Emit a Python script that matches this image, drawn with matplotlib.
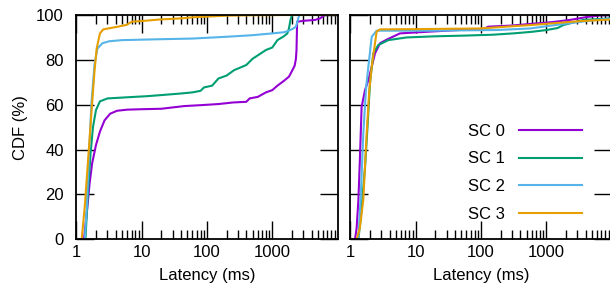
import numpy as np
import matplotlib
matplotlib.use("Agg")
import matplotlib.pyplot as plt
from matplotlib.ticker import LogLocator, NullFormatter, FixedLocator

plt.rcParams['font.family'] = ['Liberation Sans', 'DejaVu Sans']

labels = ["SC 0", "SC 1", "SC 2", "SC 3"]
colors = ["#9400D3", "#009E73", "#56B4E9", "#E69F00"]

# Left panel (latency ms, CDF %)
left_x = [
    [1.31, 1.45, 1.6, 1.75, 2.0, 2.3, 2.7, 3.3, 4.2, 6.0, 10, 20, 30, 45, 80, 150, 250, 400, 450, 600, 800, 1000, 1200, 1500, 1800, 2000, 2200, 2300, 2350, 2400, 3000, 4500, 5400, 6400, 10000],
    [1.38, 1.5, 1.65, 1.8, 2.0, 2.3, 3.0, 5.9, 12, 20, 40, 60, 80, 90, 120, 150, 200, 260, 320, 400, 500, 600, 800, 1000, 1200, 1500, 1700, 1800, 1900, 2000, 10000],
    [1.35, 1.45, 1.55, 1.7, 1.9, 2.1, 2.5, 3.2, 5.0, 19, 60, 200, 500, 1000, 1500, 1800, 2100, 2300, 2500, 2600, 10000],
    [1.21, 1.35, 1.47, 1.6, 1.72, 1.9, 2.05, 2.3, 2.59, 4.0, 5.9, 7.06, 12, 19, 40, 62, 120, 200, 600, 1860, 10000],
]
left_y = [
    [0, 12, 25, 34, 42, 48, 53, 56, 57.3, 57.8, 58.0, 58.2, 58.8, 59.4, 59.8, 60.3, 61.0, 61.3, 62.8, 63.5, 65.5, 66.5, 68.5, 70.6, 72.5, 75, 77.4, 80.4, 84.4, 97.0, 97.4, 97.8, 98.5, 100, 100],
    [0, 20, 38, 50, 57.6, 61.5, 62.8, 63.3, 63.8, 64.3, 65.0, 65.5, 66.2, 67.7, 68.5, 71.7, 73.0, 75.4, 76.5, 77.7, 80.5, 82, 84.4, 85.5, 88.8, 90.5, 91.8, 94, 97.8, 100, 100],
    [0, 15, 35, 60, 78, 85, 87.4, 88.3, 88.8, 89.2, 89.5, 90.3, 91.0, 91.8, 92.3, 93.0, 94.0, 94.8, 98.5, 100, 100],
    [0, 15, 30, 45, 58, 75, 85, 91.8, 93.6, 94.6, 95.6, 97.0, 97.5, 98.0, 98.5, 99.0, 99.4, 99.7, 99.9, 100, 100],
]

# Right panel
right_x = [
    [1.18, 1.25, 1.33, 1.4, 1.49, 1.68, 1.89, 2.13, 2.39, 2.85, 3.6, 5.76, 16.6, 60, 110, 130, 300, 565, 1200, 2300, 4200, 6500, 10000],
    [1.33, 1.45, 1.68, 1.85, 2.0, 2.25, 2.68, 3.82, 7.3, 20, 53.5, 150, 312, 600, 1015, 1500, 1820, 3690, 10000],
    [1.33, 1.45, 1.58, 1.75, 1.89, 2.13, 2.53, 5.0, 16.6, 175, 565, 1820, 5900, 10000],
    [1.25, 1.4, 1.58, 1.78, 1.95, 2.13, 2.53, 2.85, 10, 96, 565, 3450, 10000],
]
right_y = [
    [0, 5, 17.4, 35, 59, 66.5, 71, 77, 82.9, 87.4, 89.0, 91.8, 92.6, 93.5, 93.8, 94.8, 95.3, 96.0, 96.8, 97.8, 99.1, 99.8, 100],
    [0, 10, 32, 52, 69.5, 82.9, 86.6, 88.8, 90.0, 90.5, 90.8, 91.2, 91.8, 92.5, 93.3, 94.2, 95.5, 97.8, 98.5],
    [0, 20, 47, 68, 77, 90.3, 93.0, 93.0, 93.0, 93.3, 94.0, 96.0, 97.8, 98.5],
    [0, 5, 17.4, 47, 66, 77, 92.6, 93.6, 93.7, 94.0, 95.5, 97.3, 98.0],
]

fig = plt.figure(figsize=(6.10, 2.86), dpi=100)
W, H = 610.0, 286.0
axL = fig.add_axes([76.3 / W, 1 - 239.3 / H, (337.6 - 76.3) / W, (239.3 - 15) / H])
axR = fig.add_axes([350.3 / W, 1 - 239.3 / H, (611.5 - 350.3) / W, (239.3 - 15) / H])

fs = 12
for ax, xs, ys in [(axL, left_x, left_y), (axR, right_x, right_y)]:
    for x, y, c, lab in zip(xs, ys, colors, labels):
        ax.plot(x, y, color=c, lw=1.5, label=lab)
    ax.set_xscale('log')
    ax.set_xlim(1, 10000)
    ax.set_ylim(0, 100)
    ax.xaxis.set_major_locator(FixedLocator([1, 10, 100, 1000]))
    ax.xaxis.set_minor_locator(LogLocator(base=10, subs=np.arange(2, 10), numticks=20))
    ax.xaxis.set_minor_formatter(NullFormatter())
    ax.set_xticklabels(["1", "10", "100", "1000"], fontsize=fs)
    ax.set_yticks([0, 20, 40, 60, 80, 100])
    ax.tick_params(which='major', direction='in', length=13, width=1.0, top=True, right=True)
    ax.tick_params(axis='x', which='major', pad=4)
    ax.tick_params(axis='y', which='major', pad=9)
    ax.tick_params(which='minor', direction='in', length=6.5, width=1.0, top=True, right=False)
    ax.tick_params(axis='y', which='minor', left=False, right=False)
    for s in ax.spines.values():
        s.set_linewidth(1.3)
    ax.set_xlabel("Latency (ms)", fontsize=fs, labelpad=6)

axL.set_yticklabels(["0", "20", "40", "60", "80", "100"], fontsize=fs)
axL.set_ylabel("CDF (%)", fontsize=fs, labelpad=6)
axR.set_yticklabels([])

leg = axR.legend(loc='upper left', bbox_to_anchor=(0.45, 0.515), frameon=False,
                 fontsize=fs, markerfirst=False, handlelength=3.8, handletextpad=0.85,
                 labelspacing=0.76, borderaxespad=0, borderpad=0)

fig.savefig("out.png", dpi=100)
